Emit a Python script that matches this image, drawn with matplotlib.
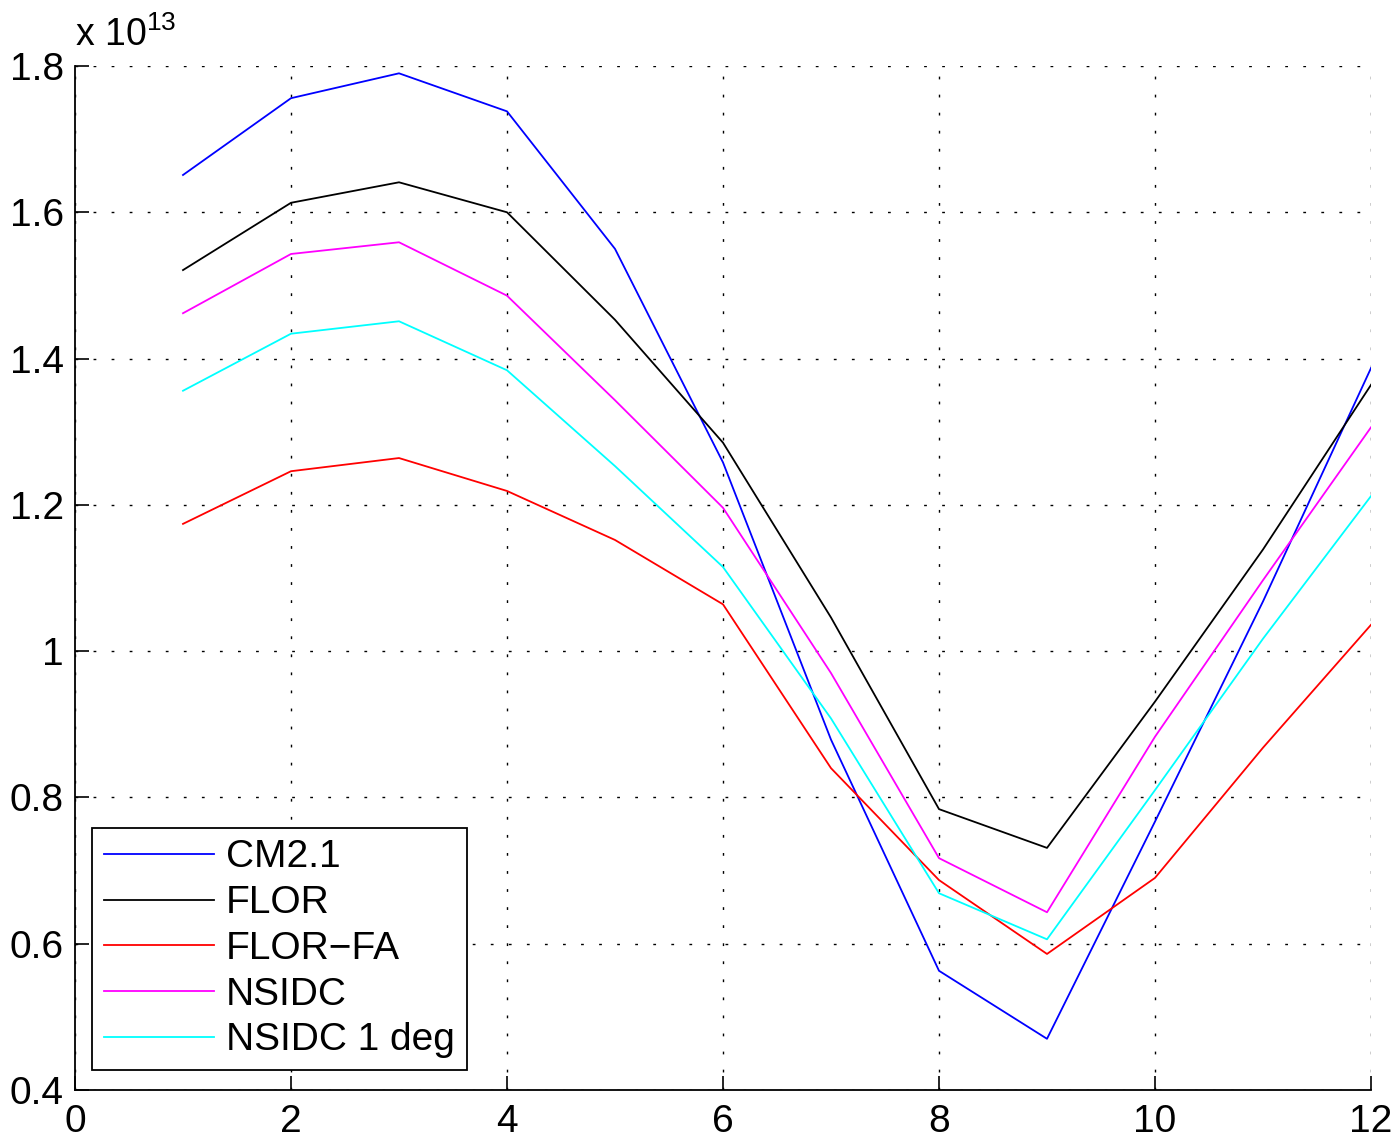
import matplotlib
matplotlib.use("Agg")
import matplotlib.pyplot as plt
from matplotlib.ticker import FuncFormatter

plt.rcParams['font.family'] = ['Liberation Sans', 'DejaVu Sans']
plt.rcParams['mathtext.fontset'] = 'custom'
plt.rcParams['mathtext.rm'] = 'Liberation Sans'

months = [1, 2, 3, 4, 5, 6, 7, 8, 9, 10, 11, 12]
cm21 = [1.651, 1.756, 1.790, 1.738, 1.550, 1.258, 0.879, 0.563, 0.470, 0.767, 1.068, 1.387]
flor = [1.521, 1.613, 1.641, 1.600, 1.453, 1.285, 1.046, 0.784, 0.731, 0.931, 1.139, 1.364]
flor_fa = [1.174, 1.246, 1.264, 1.219, 1.152, 1.064, 0.840, 0.687, 0.586, 0.690, 0.868, 1.036]
nsidc = [1.462, 1.543, 1.559, 1.486, 1.343, 1.196, 0.970, 0.717, 0.643, 0.883, 1.097, 1.306]
nsidc_1deg = [1.356, 1.434, 1.451, 1.384, 1.253, 1.115, 0.908, 0.669, 0.606, 0.810, 1.017, 1.212]

series = [
    ("CM2.1", cm21, (0, 0, 1)),
    ("FLOR", flor, (0, 0, 0)),
    ("FLOR\u2212FA", flor_fa, (1, 0, 0)),
    ("NSIDC", nsidc, (1, 0, 1)),
    ("NSIDC 1 deg", nsidc_1deg, (0, 1, 1)),
]

xticks = [0, 2, 4, 6, 8, 10, 12]
yticks = [0.4, 0.6, 0.8, 1.0, 1.2, 1.4, 1.6, 1.8]

W, H = 1400, 1142
fig = plt.figure(figsize=(W / 100, H / 100), dpi=100)
ax = fig.add_axes([75 / W, 1 - 1090 / H, (1371 - 75) / W, (1090 - 66) / H])

for name, vals, col in series:
    ax.plot(months, vals, color=col, lw=1.3, label=name)

ax.set_xlim(0, 12)
ax.set_ylim(0.4, 1.8)
ax.set_xticks(xticks)
ax.set_yticks(yticks)
ax.yaxis.set_major_formatter(FuncFormatter(lambda v, p: "%g" % round(v, 3)))
ax.grid(True, color='black', linestyle=(0, (2, 11)), linewidth=1.0)
ax.tick_params(direction='in', length=10, width=1.2, labelsize=28, pad=8,
               top=False, right=False)
ax.tick_params(axis='x', pad=10)
for s in ['top', 'right']:
    ax.spines[s].set_visible(False)
for s in ['left', 'bottom']:
    ax.spines[s].set_linewidth(1.3)

ax.text(0.0, 1.012, r"x 10$^{13}$", transform=ax.transAxes, fontsize=27,
        ha='left', va='bottom')

leg = ax.legend(loc='lower left', bbox_to_anchor=(0.013, 0.0195), borderaxespad=0,
                fontsize=28, handlelength=2.85, handletextpad=0.3, labelspacing=0.25,
                fancybox=False, framealpha=1, edgecolor='black', borderpad=0.3)
leg.get_frame().set_linewidth(1.3)

fig.savefig("out.png", dpi=100)
